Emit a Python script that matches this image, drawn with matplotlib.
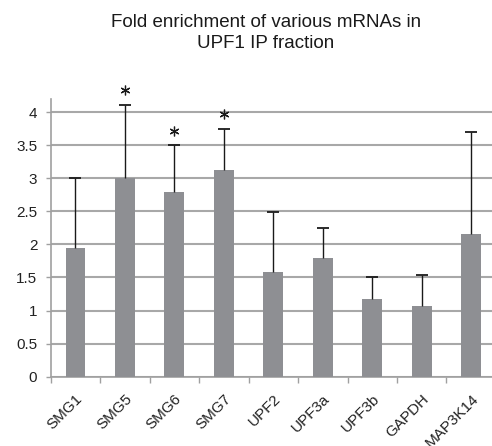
import matplotlib
matplotlib.use("Agg")
import matplotlib.pyplot as plt
import numpy as np

plt.rcParams['font.family'] = ['Liberation Sans', 'DejaVu Sans']

categories = ["SMG1", "SMG5", "SMG6", "SMG7", "UPF2", "UPF3a", "UPF3b", "GAPDH", "MAP3K14"]
values = [1.94, 3.00, 2.79, 3.12, 1.59, 1.80, 1.17, 1.07, 2.16]
err_top = [3.00, 4.11, 3.50, 3.75, 2.49, 2.25, 1.51, 1.53, 3.70]
significant = [False, True, True, True, False, False, False, False, False]
yticks = [0, 0.5, 1, 1.5, 2, 2.5, 3, 3.5, 4]
ytick_labels = ["0", "0.5", "1", "1.5", "2", "2.5", "3", "3.5", "4"]
title_lines = ["Fold enrichment of various mRNAs in", "UPF1 IP fraction"]

fig = plt.figure(figsize=(4.92, 4.46), dpi=100)
ax = fig.add_axes([0.103, 0.1554, 0.905, 0.623])

x = np.arange(len(categories))
ax.bar(x, values, width=0.4, color="#8e8f93", zorder=3)
# upper-only error bars with caps
ax.vlines(x, values, err_top, color='#1a1a1a', linewidth=1.0, zorder=4)
ax.plot(x, err_top, linestyle='none', marker='_', markersize=9, markeredgewidth=1.3,
        color='#1a1a1a', zorder=4, clip_on=False)
for xi, et, s in zip(x, err_top, significant):
    if s:
        ax.plot(xi, et + 0.22, marker=(6, 2, 0), markersize=7, color='#1a1a1a',
                markeredgewidth=0.9, clip_on=False, zorder=5)

ax.set_xlim(-0.5, len(categories) - 0.5)
ax.set_ylim(0, 4.2)
ax.set_yticks(yticks)
ax.set_yticklabels(ytick_labels, fontsize=11, color='#222222')
ax.yaxis.grid(True, color='#a8a8a8', linewidth=1.5, zorder=0)
ax.set_axisbelow(True)

ax.set_xticks(np.arange(len(categories) + 1) - 0.5)
ax.set_xticklabels([])
ax.set_xticks(x, minor=True)
ax.set_xticklabels(categories, minor=True, rotation=45, ha='right', va='top',
                   rotation_mode='anchor', fontsize=11, color='#222222')
ax.tick_params(axis='x', which='minor', length=0, pad=11)
ax.tick_params(axis='x', which='major', length=4, color='#a0a0a0', width=1)
ax.tick_params(axis='y', length=3.6, color='#a0a0a0', width=1, pad=6)

for side in ['top', 'right']:
    ax.spines[side].set_visible(False)
ax.spines['left'].set_color('#a0a0a0')
ax.spines['bottom'].set_color('#a0a0a0')
ax.spines['left'].set_linewidth(1.2)
ax.spines['bottom'].set_linewidth(1.2)

fig.text(0.5407, 1 - 27.3 / 446, title_lines[0], ha='center', va='baseline',
         fontsize=13.5, color='#1a1a1a')
fig.text(0.5407, 1 - 48.3 / 446, title_lines[1], ha='center', va='baseline',
         fontsize=13.5, color='#1a1a1a')

fig.savefig("out.png", dpi=100)
